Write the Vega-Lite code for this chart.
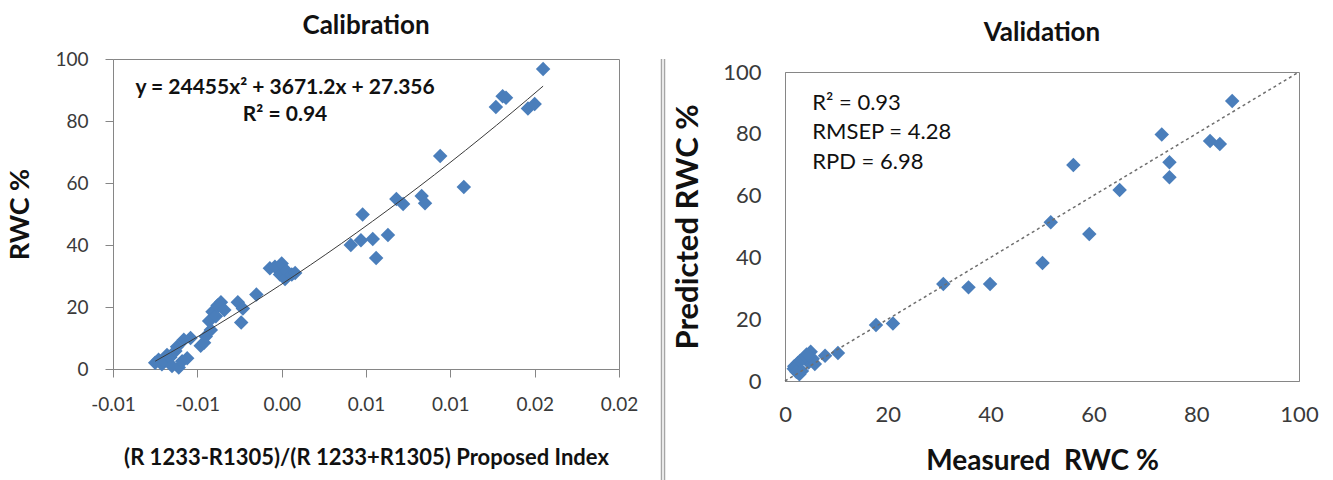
{
  "$schema": "https://vega.github.io/schema/vega-lite/v6.json",
  "background": "white",
  "padding": {"left": 6, "top": 12, "right": 5, "bottom": 0},
  "spacing": 6,
  "config": {
    "font": "Lato",
    "view": {"stroke": "#868686", "strokeWidth": 1},
    "axis": {"grid": false, "domainColor": "#868686", "tickColor": "#868686", "labelColor": "#3a3a3a", "titleColor": "#111111", "labelFont": "Lato", "titleFont": "Lato", "titleFontWeight": "bold", "labelFontWeight": "normal"},
    "title": {"font": "Lato", "fontWeight": "bold", "color": "#111111", "fontSize": 26, "frame": "group", "anchor": "middle"}
  },
  "datasets": {
    "calib": [
      {"index": -0.0075, "rwc": 2.0}, {"index": -0.0073, "rwc": 3.0}, {"index": -0.0071, "rwc": 1.5}, {"index": -0.0070, "rwc": 2.6},
      {"index": -0.0068, "rwc": 4.5}, {"index": -0.0066, "rwc": 3.8}, {"index": -0.0065, "rwc": 1.0}, {"index": -0.0063, "rwc": 5.8},
      {"index": -0.0062, "rwc": 7.2}, {"index": -0.0061, "rwc": 0.5}, {"index": -0.0059, "rwc": 2.5}, {"index": -0.0058, "rwc": 9.4},
      {"index": -0.0056, "rwc": 3.5}, {"index": -0.0054, "rwc": 10.0}, {"index": -0.0048, "rwc": 7.5}, {"index": -0.0046, "rwc": 8.5},
      {"index": -0.0045, "rwc": 10.5}, {"index": -0.0042, "rwc": 12.6}, {"index": -0.0043, "rwc": 15.5}, {"index": -0.0041, "rwc": 18.5},
      {"index": -0.0039, "rwc": 17.0}, {"index": -0.0038, "rwc": 20.5}, {"index": -0.0036, "rwc": 21.5}, {"index": -0.0034, "rwc": 19.0},
      {"index": -0.0026, "rwc": 21.5}, {"index": -0.0024, "rwc": 15.0}, {"index": -0.0023, "rwc": 19.5}, {"index": -0.0015, "rwc": 24.0},
      {"index": -0.0007, "rwc": 32.5}, {"index": -0.0004, "rwc": 33.0}, {"index": -0.0001, "rwc": 30.5}, {"index": 0.0000, "rwc": 34.0},
      {"index": 0.0002, "rwc": 29.0}, {"index": 0.0003, "rwc": 31.5}, {"index": 0.0006, "rwc": 30.5}, {"index": 0.0008, "rwc": 31.0},
      {"index": 0.0041, "rwc": 40.0}, {"index": 0.0047, "rwc": 41.5}, {"index": 0.0048, "rwc": 49.8}, {"index": 0.0054, "rwc": 41.9},
      {"index": 0.0056, "rwc": 35.8}, {"index": 0.0063, "rwc": 43.2}, {"index": 0.0068, "rwc": 54.8}, {"index": 0.0072, "rwc": 53.2},
      {"index": 0.0083, "rwc": 55.8}, {"index": 0.0085, "rwc": 53.5}, {"index": 0.0094, "rwc": 68.7}, {"index": 0.0108, "rwc": 58.7},
      {"index": 0.0127, "rwc": 84.5}, {"index": 0.0131, "rwc": 88.0}, {"index": 0.0133, "rwc": 87.5}, {"index": 0.0146, "rwc": 84.0},
      {"index": 0.0150, "rwc": 85.5}, {"index": 0.0155, "rwc": 96.8}
    ],
    "valid": [
      {"measured": 87.0, "predicted": 90.6}, {"measured": 73.3, "predicted": 79.8}, {"measured": 82.7, "predicted": 77.7},
      {"measured": 84.6, "predicted": 76.7}, {"measured": 74.8, "predicted": 70.8}, {"measured": 74.8, "predicted": 65.9},
      {"measured": 56.1, "predicted": 69.9}, {"measured": 65.1, "predicted": 61.8}, {"measured": 51.7, "predicted": 51.4},
      {"measured": 59.2, "predicted": 47.6}, {"measured": 50.1, "predicted": 38.2}, {"measured": 30.8, "predicted": 31.4},
      {"measured": 35.7, "predicted": 30.3}, {"measured": 39.9, "predicted": 31.4}, {"measured": 17.7, "predicted": 18.1},
      {"measured": 21.0, "predicted": 18.6}, {"measured": 10.3, "predicted": 9.1}, {"measured": 7.8, "predicted": 8.2},
      {"measured": 5.0, "predicted": 9.5}, {"measured": 4.6, "predicted": 6.0}, {"measured": 5.4, "predicted": 7.2},
      {"measured": 3.7, "predicted": 7.5}, {"measured": 4.2, "predicted": 8.6}, {"measured": 2.9, "predicted": 6.5},
      {"measured": 2.5, "predicted": 5.8}, {"measured": 1.8, "predicted": 4.8}, {"measured": 1.7, "predicted": 4.0},
      {"measured": 2.2, "predicted": 3.0}, {"measured": 3.3, "predicted": 3.2}, {"measured": 2.8, "predicted": 2.2},
      {"measured": 5.8, "predicted": 5.5}
    ],
    "identity": [{"measured": 0, "predicted": 0}, {"measured": 100, "predicted": 100}]
  },
  "hconcat": [
    {
      "width": 506,
      "height": 310,
      "title": {"text": "Calibration", "offset": 11},
      "layer": [
        {
          "data": {"name": "calib"},
          "mark": {"type": "point", "shape": "diamond", "filled": true, "size": 210, "color": "#4A7EBB", "opacity": 1},
          "encoding": {
            "x": {"field": "index", "type": "quantitative",
              "scale": {"domain": [-0.01, 0.02], "nice": false, "zero": false},
              "axis": {"values": [-0.01, -0.005, 0, 0.005, 0.01, 0.015, 0.02],
                "labelExpr": "(datum.value < 0 ? '-' : '') + format(round(abs(datum.value) * 100 + 0.000001) / 100, '.2f')",
                "labelFlush": false, "labelOverlap": false, "tickSize": 8, "labelPadding": 18, "labelFontSize": 19,
                "title": "(R 1233-R1305)/(R 1233+R1305) Proposed Index", "titleFontSize": 22, "titlePadding": 33}},
            "y": {"field": "rwc", "type": "quantitative",
              "scale": {"domain": [0, 100], "nice": false},
              "axis": {"values": [0, 20, 40, 60, 80, 100], "tickSize": 8, "labelPadding": 17, "labelFontSize": 19,
                "title": "RWC %", "titleFontSize": 27, "titlePadding": 20}}
          }
        },
        {
          "data": {"name": "calib"},
          "transform": [{"regression": "rwc", "on": "index", "method": "poly", "order": 2}],
          "mark": {"type": "line", "color": "#3a3a3a", "strokeWidth": 1},
          "encoding": {
            "x": {"field": "index", "type": "quantitative"},
            "y": {"field": "rwc", "type": "quantitative"}
          }
        },
        {
          "data": {"values": [{"label": "y = 24455x² + 3671.2x + 27.356"}]},
          "mark": {"type": "text", "fontSize": 21, "fontWeight": "bold", "color": "#111111", "align": "center", "baseline": "middle"},
          "encoding": {
            "x": {"datum": 0.0002, "type": "quantitative"},
            "y": {"datum": 90.6, "type": "quantitative"},
            "text": {"field": "label"}
          }
        },
        {
          "data": {"values": [{"label": "R² = 0.94"}]},
          "mark": {"type": "text", "fontSize": 21, "fontWeight": "bold", "color": "#111111", "align": "center", "baseline": "middle"},
          "encoding": {
            "x": {"datum": 0.0002, "type": "quantitative"},
            "y": {"datum": 81.9, "type": "quantitative"},
            "text": {"field": "label"}
          }
        }
      ]
    },
    {
      "width": 21,
      "height": 480,
      "view": {"stroke": null},
      "data": {"values": [{}]},
      "layer": [
        {
          "mark": {"type": "rule", "color": "#a6a6a6", "strokeWidth": 1.5},
          "encoding": {"x": {"datum": 16.5, "type": "quantitative", "scale": {"domain": [0, 21], "nice": false, "zero": false}, "axis": null}}
        },
        {
          "mark": {"type": "rule", "color": "#a6a6a6", "strokeWidth": 1.5},
          "encoding": {"x": {"datum": 19.5, "type": "quantitative"}}
        }
      ]
    },
    {
      "spacing": 0,
      "vconcat": [
        {
          "width": 514,
          "height": 1,
          "title": {"text": "Validation", "offset": 13},
          "view": {"stroke": null},
          "data": {"values": []},
          "mark": "point"
        },
        {
          "width": 514,
          "height": 309,
          "layer": [
            {
              "data": {"name": "valid"},
              "mark": {"type": "point", "shape": "diamond", "filled": true, "size": 210, "color": "#4A7EBB", "opacity": 1},
              "encoding": {
                "x": {"field": "measured", "type": "quantitative",
                  "scale": {"domain": [0, 100], "nice": false},
                  "axis": {"values": [0, 20, 40, 60, 80, 100], "ticks": false, "labelFlush": false, "labelOverlap": false,
                    "labelPadding": 23, "labelFontSize": 22, "title": "Measured\u00a0 RWC %", "titleFontSize": 28, "titlePadding": 22}},
                "y": {"field": "predicted", "type": "quantitative",
                  "scale": {"domain": [0, 100], "nice": false},
                  "axis": {"values": [0, 20, 40, 60, 80, 100], "ticks": false, "labelPadding": 24, "labelFontSize": 22,
                    "title": "Predicted RWC %", "titleFontSize": 31, "titlePadding": 18}}
              }
            },
            {
              "data": {"name": "identity"},
              "mark": {"type": "line", "color": "#6e6e6e", "strokeWidth": 1.5, "strokeDash": [3, 3]},
              "encoding": {
                "x": {"field": "measured", "type": "quantitative"},
                "y": {"field": "predicted", "type": "quantitative"}
              }
            },
            {
              "data": {"values": [{"label": "R² = 0.93"}]},
              "mark": {"type": "text", "fontSize": 22, "color": "#111111", "align": "left", "baseline": "middle"},
              "encoding": {"x": {"datum": 5.3, "type": "quantitative"}, "y": {"datum": 90.0, "type": "quantitative"}, "text": {"field": "label"}}
            },
            {
              "data": {"values": [{"label": "RMSEP = 4.28"}]},
              "mark": {"type": "text", "fontSize": 22, "color": "#111111", "align": "left", "baseline": "middle"},
              "encoding": {"x": {"datum": 5.3, "type": "quantitative"}, "y": {"datum": 80.6, "type": "quantitative"}, "text": {"field": "label"}}
            },
            {
              "data": {"values": [{"label": "RPD = 6.98"}]},
              "mark": {"type": "text", "fontSize": 22, "color": "#111111", "align": "left", "baseline": "middle"},
              "encoding": {"x": {"datum": 5.3, "type": "quantitative"}, "y": {"datum": 70.9, "type": "quantitative"}, "text": {"field": "label"}}
            }
          ]
        }
      ]
    }
  ]
}
